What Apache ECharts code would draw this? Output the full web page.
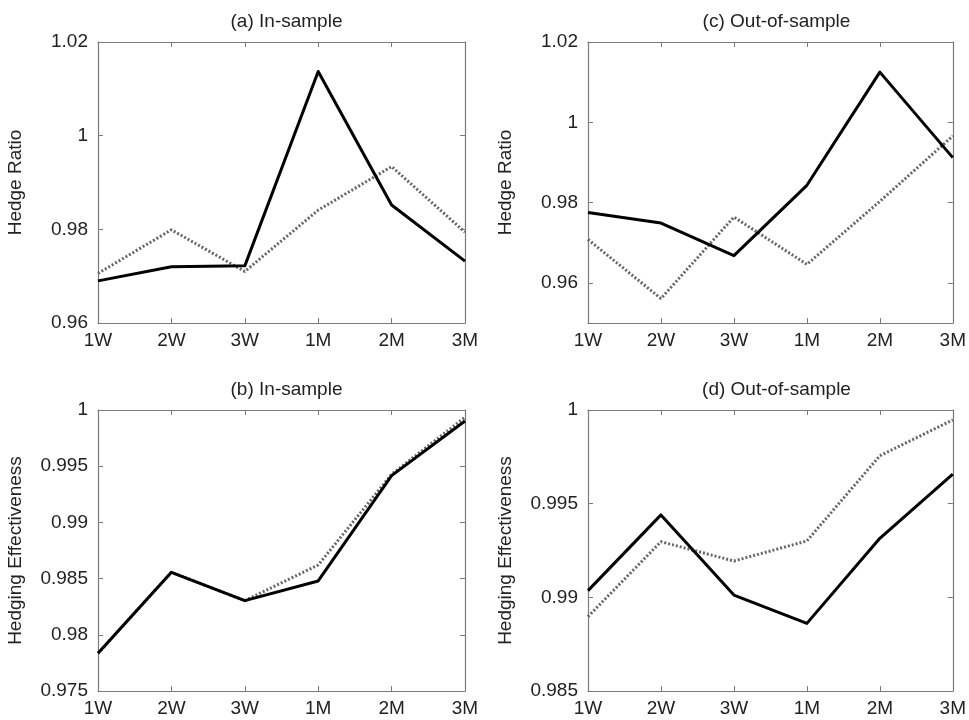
<!DOCTYPE html>
<html>
<head>
<meta charset="utf-8">
<script src="https://cdn.jsdelivr.net/npm/echarts@6/dist/echarts.min.js"></script>
<style>html,body{margin:0;padding:0;background:#fff}#c{width:969px;height:720px}</style>
</head>
<body>
<div id="c"></div>
<script>
// ---- data ----
const categories = ['1W', '2W', '3W', '1M', '2M', '3M'];
const titles = ['(a) In-sample', '(c) Out-of-sample', '(b) In-sample', '(d) Out-of-sample'];
const yNames = ['Hedge Ratio', 'Hedge Ratio', 'Hedging Effectiveness', 'Hedging Effectiveness'];

const hrInSolid    = [0.9690, 0.9720, 0.9722, 1.0137, 0.9852, 0.9732];
const hrInDotted   = [0.9706, 0.9799, 0.9710, 0.9841, 0.9934, 0.9794];
const hrOutSolid   = [0.9775, 0.9749, 0.9668, 0.9843, 1.0125, 0.9912];
const hrOutDotted  = [0.9708, 0.9561, 0.9764, 0.9646, 0.9803, 0.9966];
const heInSolid    = [0.97835, 0.98556, 0.98304, 0.98479, 0.99416, 0.99902];
const heInDotted   = [0.97835, 0.98556, 0.98304, 0.98621, 0.99428, 0.99935];
const heOutSolid   = [0.99036, 0.99440, 0.99012, 0.98861, 0.99315, 0.99658];
const heOutDotted  = [0.98897, 0.99297, 0.99194, 0.99301, 0.99756, 0.99947];

const yMins = [0.96, 0.95, 0.975, 0.985];
const yMaxs = [1.02, 1.02, 1.0, 1.0];
const yTicksA = [0.96, 0.98, 1.0, 1.02];
const yTicksC = [0.96, 0.98, 1.0, 1.02];
const yTicksB = [0.975, 0.98, 0.985, 0.99, 0.995, 1.0];
const yTicksD = [0.985, 0.99, 0.995, 1.0];
const yTicks = [yTicksA, yTicksC, yTicksB, yTicksD];

const solidData = [hrInSolid, hrOutSolid, heInSolid, heOutSolid];
const dottedData = [hrInDotted, hrOutDotted, heInDotted, heOutDotted];

// ---- layout ----
const grids = [
  {left: 98, top: 42, width: 367, height: 281},
  {left: 588, top: 42, width: 367, height: 281},
  {left: 98, top: 410, width: 367, height: 281},
  {left: 588, top: 410, width: 367, height: 281}
];
const titleTops = [7, 7, 375, 375];

const FONT = "'Liberation Sans', Arial, sans-serif";
const TXT = '#222';
const AX = '#7a7a7a';

const option = {
  animation: false,
  backgroundColor: '#fff',
  textStyle: {fontFamily: FONT},
  title: grids.map((g, i) => ({
    text: titles[i],
    left: g.left + g.width / 2,
    textAlign: 'center',
    top: titleTops[i],
    textStyle: {fontFamily: FONT, fontSize: 19, fontWeight: 'normal', color: TXT}
  })),
  grid: grids.map(g => Object.assign({}, g, {containLabel: false})),
  xAxis: [],
  yAxis: [],
  series: []
};

for (let i = 0; i < 4; i++) {
  option.xAxis.push({
    type: 'category', gridIndex: i, data: categories, boundaryGap: false,
    axisLine: {show: true, lineStyle: {color: AX, width: 1.2}},
    axisTick: {show: true, inside: true, length: 5, lineStyle: {color: AX}},
    axisLabel: {color: TXT, fontSize: 19, fontFamily: FONT, margin: 8, interval: 0},
    splitLine: {show: false}
  });
  option.yAxis.push({
    type: 'value', gridIndex: i, min: yMins[i], max: yMaxs[i],
    name: yNames[i], nameLocation: 'middle', nameGap: 73, nameRotate: 90,
    nameTextStyle: {color: TXT, fontSize: 19, fontFamily: FONT},
    axisLine: {show: true, lineStyle: {color: AX, width: 1.2}},
    axisTick: {show: true, inside: true, length: 5, lineStyle: {color: AX}, customValues: yTicks[i]},
    axisLabel: {color: TXT, fontSize: 19, fontFamily: FONT, margin: 10, customValues: yTicks[i],
      formatter: v => String(parseFloat(v.toFixed(4)))},
    splitLine: {show: false}
  });
}
for (let i = 0; i < 4; i++) {
  option.xAxis.push({
    type: 'category', gridIndex: i, data: categories, boundaryGap: false, position: 'top',
    axisLine: {show: true, lineStyle: {color: AX, width: 1.2}},
    axisTick: {show: true, inside: true, length: 5, lineStyle: {color: AX}},
    axisLabel: {show: false}, splitLine: {show: false}
  });
  option.yAxis.push({
    type: 'value', gridIndex: i, min: yMins[i], max: yMaxs[i], position: 'right',
    axisLine: {show: true, lineStyle: {color: AX, width: 1.2}},
    axisTick: {show: true, inside: true, length: 5, lineStyle: {color: AX}, customValues: yTicks[i]},
    axisLabel: {show: false}, splitLine: {show: false}
  });
}
for (let i = 0; i < 4; i++) {
  option.series.push({
    type: 'line', name: 'dotted', xAxisIndex: i, yAxisIndex: i, data: dottedData[i],
    symbol: 'none', lineStyle: {color: '#666', width: 3, type: [2, 2]}, z: 2
  });
  option.series.push({
    type: 'line', name: 'solid', xAxisIndex: i, yAxisIndex: i, data: solidData[i],
    symbol: 'none', lineStyle: {color: '#000', width: 3, join: 'round'}, z: 3
  });
}

const chart = echarts.init(document.getElementById('c'), null, {renderer: 'canvas'});
chart.setOption(option);
</script>
</body>
</html>
